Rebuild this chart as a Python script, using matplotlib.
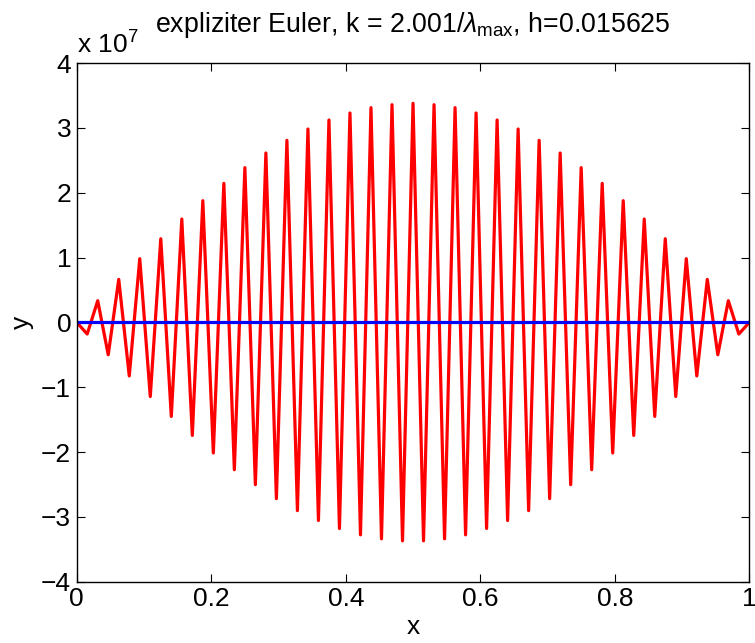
import numpy as np
import matplotlib
matplotlib.use('Agg')
import matplotlib.pyplot as plt

plt.rcParams['font.family'] = ['Liberation Sans', 'DejaVu Sans']
plt.rcParams['mathtext.fontset'] = 'custom'
plt.rcParams['mathtext.rm'] = 'Liberation Sans'
plt.rcParams['mathtext.it'] = 'Liberation Sans:italic'

# grid points x_i = i*h, h = 1/64
n_steps = 64
h = 0.015625
x = np.arange(n_steps + 1) * h

# explicit Euler solution (units of 1e7)
y_euler = [
    0.0, -0.18, 0.334, -0.50, 0.663, -0.826, 0.982, -1.144, 1.290, -1.451,
    1.594, -1.744, 1.877, -2.015, 2.144, -2.272, 2.386, -2.503, 2.612, -2.718,
    2.807, -2.903, 2.982, -3.056, 3.121, -3.179, 3.229, -3.277, 3.311, -3.338,
    3.357, -3.369, 3.378, -3.369, 3.357, -3.338, 3.311, -3.277, 3.229, -3.179,
    3.121, -3.056, 2.982, -2.903, 2.807, -2.718, 2.612, -2.503, 2.386, -2.272,
    2.144, -2.015, 1.877, -1.744, 1.594, -1.451, 1.290, -1.144, 0.982, -0.826,
    0.663, -0.50, 0.334, -0.18, 0.0,
]
y_exact = [0.0] * (n_steps + 1)

y_euler = np.array(y_euler) * 1e7
y_exact = np.array(y_exact) * 1e7

fig = plt.figure(figsize=(7.55, 6.43), dpi=100)
ax = fig.add_axes([0.1016, 0.0953, 0.8909, 0.8067])

ax.plot(x, y_euler, color='red', linewidth=2.3)
ax.plot(x, y_exact, color='blue', linewidth=2.3)

ax.set_xlim(0, 1)
ax.set_ylim(-4e7, 4e7)
ax.set_xticks([0, 0.2, 0.4, 0.6, 0.8, 1])
ax.set_xticklabels(['0', '0.2', '0.4', '0.6', '0.8', '1'])
yt = np.arange(-4, 5)
ax.set_yticks(yt * 1e7)
ax.set_yticklabels([str(v).replace('-', '\u2212') for v in yt])
ax.tick_params(direction='in', length=6, width=0.8, labelsize=19, pad=4,
               top=True, right=True)
for s in ax.spines.values():
    s.set_linewidth(1.0)

ax.text(0.0, 1.008, r'x 10$^7$', transform=ax.transAxes, fontsize=19,
        ha='left', va='bottom')

ax.set_xlabel('x', fontsize=19, labelpad=3)
ax.set_ylabel('y', fontsize=19, labelpad=5)
ax.set_title(r'expliziter Euler, k = 2.001/$\lambda_{\rm max}$, h=0.015625',
             fontsize=19.3, pad=22)

fig.savefig('out.png', dpi=100)
